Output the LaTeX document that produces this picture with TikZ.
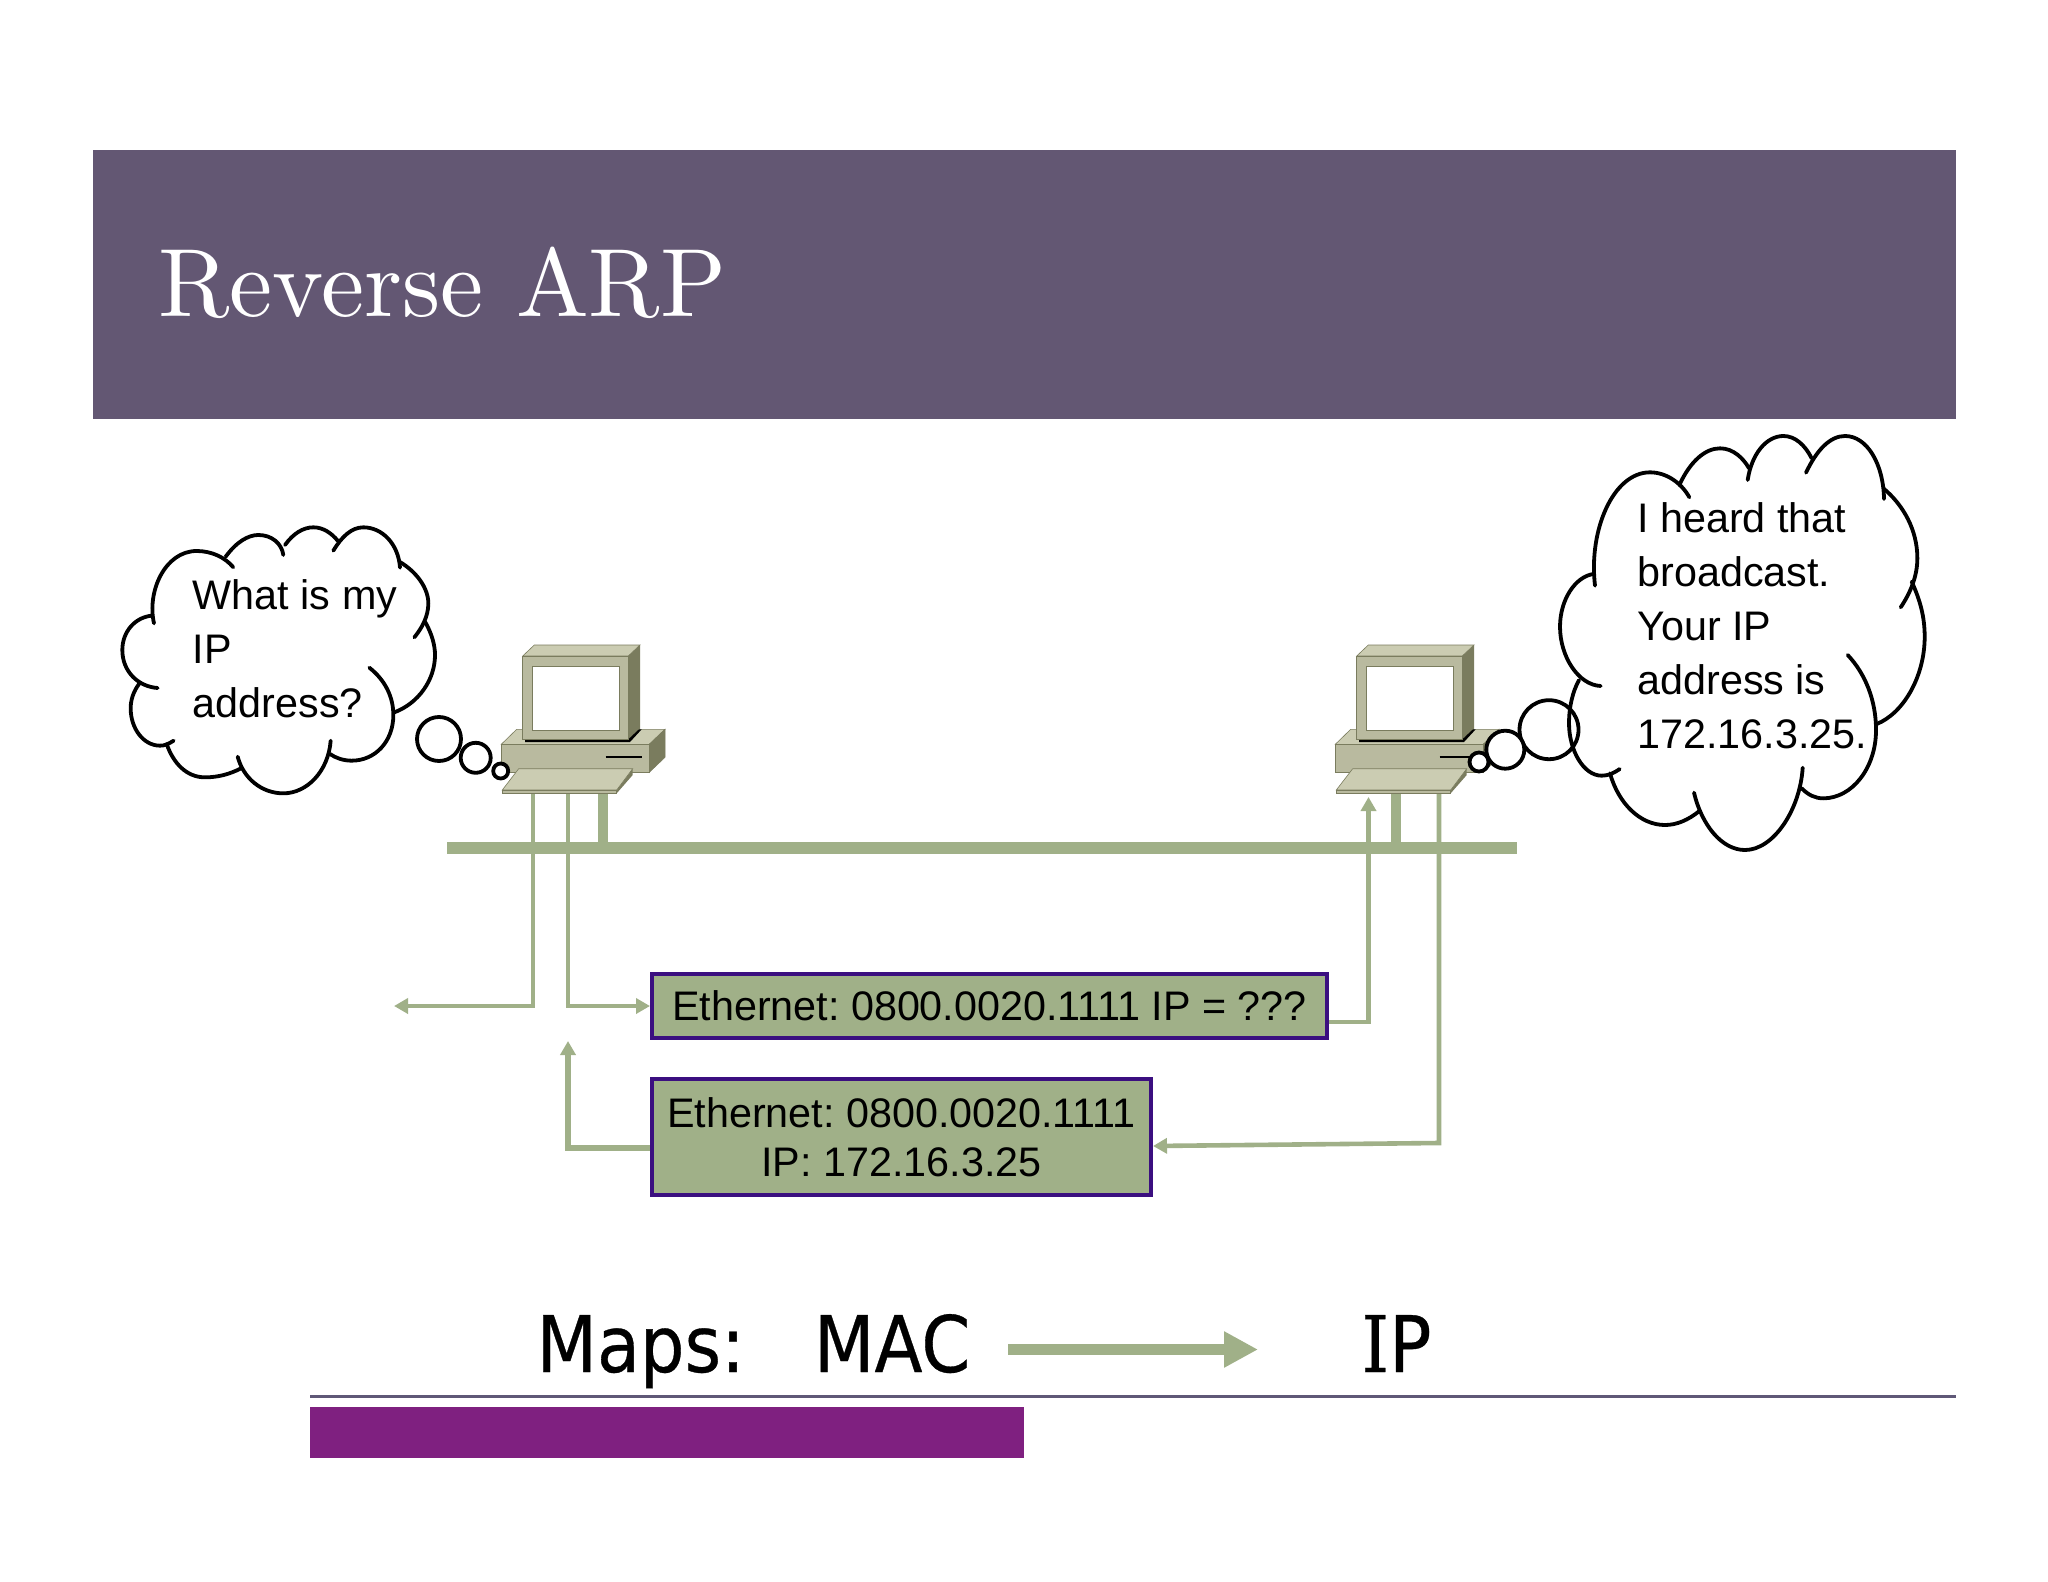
\documentclass[tikz,border=0pt]{standalone}
\usepackage{fontspec}
\usetikzlibrary{arrows.meta}
\frenchspacing
\newfontfamily\arialf{Liberation Sans}
\newfontfamily\titlef{lmroman10-regular.otf}
\newfontfamily\mapf[FakeStretch=0.9,FakeBold=0.4]{DejaVu Sans}
\newfontfamily\mapi[FakeStretch=0.9,FakeBold=0.4]{DejaVu Serif}
\definecolor{banner}{HTML}{635773}
\definecolor{netgreen}{HTML}{A0B088}
\definecolor{boxedge}{HTML}{3B0F80}
\definecolor{footbar}{HTML}{7F2080}
\definecolor{footline}{HTML}{5F5877}
\definecolor{pcfront}{HTML}{B9BA9F}
\definecolor{pctop}{HTML}{CBCCB2}
\definecolor{pcside}{HTML}{7A7C5E}
\tikzset{
  cloudline/.style={draw=black,line width=1.9pt,line cap=round},
  thinking/.style={draw=black,line width=1.9pt,fill=white},
  saytext/.style={font=\arialf\fontsize{20.65}{27}\selectfont,align=left,inner sep=0pt,anchor=base west},
  msgbox/.style={draw=boxedge,line width=2pt,fill=netgreen,inner sep=0pt,
    font=\arialf\fontsize{20.65}{24.5}\selectfont,align=center},
  link/.style={draw=netgreen,line width=2.3pt},
  linkthick/.style={draw=netgreen,line width=2.8pt},
  stub/.style={draw=netgreen,line width=5pt},
  smallhead/.style={-{Triangle[length=7pt,width=7.5pt]}},
  maptext/.style={font=\mapf\fontsize{39}{45}\selectfont,inner sep=0pt,anchor=base west},
  computer/.pic={
    \fill[pctop,draw=pcside,line width=.3pt] (522.7,656)--(534.3,645)--(640,645)--(628.3,656)--cycle;
    \fill[pctop,draw=pcside,line width=.3pt] (501.3,744.3)--(516.7,729.3)--(665,729.3)--(649.3,744.3)--cycle;
    \fill[pcside,draw=pcside,line width=.3pt] (649.3,744.3)--(665,729.3)--(665,757.3)--(649.3,772.3)--cycle;
    \fill[pcfront,draw=pcside,line width=.3pt] (501.3,744.3) rectangle (649.3,772.3);
    \draw[black,line width=1.3pt] (605.7,757)--(641.7,757);
    \fill[pcside] (628.3,656)--(640,645)--(640,729.3)--(628.3,739.3)--cycle;
    \fill[black] (525,739.3)--(628.3,739.3)--(639,729.3)--(641.7,729.3)--(630,742)--(525,742)--cycle;
    \fill[pcfront,draw=pcside,line width=.5pt] (522.7,656) rectangle (628.3,739.3);
    \fill[white,draw=pcside,line width=.5pt] (532,666.7) rectangle (619,730.7);
    \fill[pcside] (616.7,790)--(632.7,768.7)--(632.7,775)--(616.7,793.3)--cycle;
    \fill[pctop,draw=pcside,line width=.3pt] (502.3,790)--(518.7,768.7)--(632.7,768.7)--(616.7,790)--cycle;
    \fill[pcfront,draw=pcside,line width=.3pt] (502.3,790) rectangle (616.7,793.3);
  }
}
\begin{document}
\begin{tikzpicture}[x=0.5pt,y=-0.5pt]
\useasboundingbox (0,0) rectangle (2048,1582);
\fill[white] (0,0) rectangle (2048,1582);
% banner
\fill[banner] (93,150) rectangle (1956,419);
\node[inner sep=0pt,anchor=base west,text=white,font=\titlef\fontsize{48.5}{50}\selectfont] (title) at (158,316.5) {Reverse ARP};
% named points of the network
\coordinate (busL) at (447,848);
\coordinate (busR) at (1517,848);
\coordinate (lanA) at (533,794);
\coordinate (lanB) at (568,794);
\coordinate (lanC) at (603,794);
\coordinate (lanD) at (1396,794);
\coordinate (lanE) at (1439,794);
\coordinate (tipL) at (394,1006);
\coordinate (tipUp) at (568,1041);
\coordinate (tipR) at (1368.5,797);
% message boxes
\node[msgbox,minimum width=337.5pt,minimum height=32pt] (box1) at (989.5,1006) {Ethernet: 0800.0020.1111 IP = ???};
\node[msgbox,minimum width=249.5pt,minimum height=58pt] (box2) at (901.5,1137) {Ethernet: 0800.0020.1111\\IP: 172.16.3.25};
% network lines
\draw[stub,line width=5.6pt] (busL)--(busR);
\draw[stub] (lanC)--(lanC|-busL);
\draw[stub] (lanD)--(lanD|-busL);
\draw[link,smallhead] (lanA)--(533,1006)--(tipL);
\draw[link,smallhead] (lanB)--(568,1006)--(box1.west|-0,1006);
\draw[linkthick,smallhead] (box2.west|-0,1148)--(568,1148)--(tipUp);
\draw[link,smallhead] (box1.east|-0,1022)--(1368.5,1022)--(tipR);
\draw[link,smallhead] (lanE)--(1439,1143)--(box2.east|-0,1146);
% computers
\pic at (0,0) {computer};
\pic at (834,0) {computer};
% thought bubbles under the clouds' outlines
\draw[thinking] (439,739) circle (22);
\draw[thinking] (475.7,757.8) circle (15);
\draw[thinking] (500.7,771) circle (7.5);
\draw[thinking] (1549,729.7) circle (29.5);
\draw[thinking] (1505.3,749.7) circle (19);
\draw[thinking] (1479,762) circle (9.5);
% left cloud
\begin{scope}[shift={(115,520)},x=0.16667pt,y=-0.16667pt]
\draw[cloudline] (117,310) .. controls (95,215) and (150,93) .. (245,93) .. controls (290,93) and (330,112) .. (355,142);
\draw[cloudline] (332,110) .. controls (365,65) and (400,45) .. (430,45) .. controls (470,45) and (500,70) .. (505,105);
\draw[cloudline] (510,75) .. controls (535,40) and (565,22) .. (595,22) .. controls (625,22) and (650,40) .. (668,62);
\draw[cloudline] (655,92) .. controls (680,50) and (710,22) .. (745,22) .. controls (800,22) and (850,70) .. (855,143);
\draw[cloudline] (853,125) .. controls (905,155) and (940,205) .. (940,250) .. controls (940,290) and (920,325) .. (898,352);
\draw[cloudline] (930,305) .. controls (950,340) and (960,375) .. (960,405) .. controls (960,480) and (910,550) .. (838,577);
\draw[cloudline] (763,443) .. controls (810,480) and (835,530) .. (835,585) .. controls (835,665) and (780,722) .. (710,722) .. controls (685,722) and (662,714) .. (645,702);
\draw[cloudline] (647,662) .. controls (640,755) and (575,820) .. (505,820) .. controls (440,820) and (385,775) .. (368,710);
\draw[cloudline] (378,745) .. controls (345,762) and (310,772) .. (270,772) .. controls (215,772) and (175,730) .. (155,672);
\draw[cloudline] (176,662) .. controls (160,672) and (150,677) .. (135,677) .. controls (85,677) and (47,625) .. (47,565) .. controls (47,540) and (55,515) .. (72,492);
\draw[cloudline] (128,504) .. controls (70,500) and (22,455) .. (22,390) .. controls (22,335) and (60,292) .. (110,287);
\end{scope}
\node[saytext] (askL) at (192.5,717) {What is my\\IP\\address?};
% right cloud
\begin{scope}[shift={(1550,430)},x=0.16667pt,y=-0.16667pt]
\draw[cloudline] (135,467) .. controls (115,300) and (190,127) .. (300,127) .. controls (350,127) and (395,160) .. (418,202);
\draw[cloudline] (388,165) .. controls (420,95) and (465,55) .. (510,55) .. controls (550,55) and (580,85) .. (597,115);
\draw[cloudline] (593,150) .. controls (605,70) and (650,18) .. (700,18) .. controls (735,18) and (765,45) .. (785,85);
\draw[cloudline] (768,128) .. controls (800,60) and (840,18) .. (885,18) .. controls (950,18) and (1000,100) .. (1002,207);
\draw[cloudline] (1000,175) .. controls (1060,225) and (1102,300) .. (1102,385) .. controls (1102,440) and (1080,490) .. (1052,532);
\draw[cloudline] (1085,455) .. controls (1110,510) and (1124,560) .. (1124,620) .. controls (1124,740) and (1060,850) .. (980,882);
\draw[cloudline] (893,675) .. controls (945,730) and (978,810) .. (978,900) .. controls (978,1015) and (905,1105) .. (820,1105) .. controls (795,1105) and (775,1095) .. (755,1075);
\draw[cloudline] (758,1013) .. controls (750,1140) and (670,1260) .. (585,1260) .. controls (515,1260) and (455,1185) .. (432,1088);
\draw[cloudline] (448,1143) .. controls (415,1170) and (380,1185) .. (345,1185) .. controls (270,1185) and (205,1120) .. (180,1030);
\draw[cloudline] (209,1017) .. controls (190,1030) and (175,1037) .. (155,1037) .. controls (100,1037) and (57,960) .. (57,880) .. controls (57,830) and (68,785) .. (87,750);
\draw[cloudline] (152,768) .. controls (85,765) and (30,680) .. (30,590) .. controls (30,510) and (75,440) .. (130,432);
\end{scope}
\node[saytext] (askR) at (1637,748) {I heard that\\broadcast.\\Your IP\\address is\\172.16.3.25.};
% maps line
\node[maptext] (maps) at (536,1372) {Maps:};
\node[maptext] (mac) at (813.5,1372) {MAC};
\node[maptext] (ip) at (1361,1372) {{\mapi I}P};
\coordinate (mapA) at (1008,1349.5);
\coordinate (mapB) at (1258,1349.5);
\draw[draw=netgreen,line width=5.5pt,-{Triangle[length=17pt,width=17pt]}] (mapA)--(mapB);
% footer
\draw[footline,line width=1.5pt] (310,1396)--(1956,1396);
\fill[footbar] (310,1407) rectangle (1024,1458);
\end{tikzpicture}
\end{document}
